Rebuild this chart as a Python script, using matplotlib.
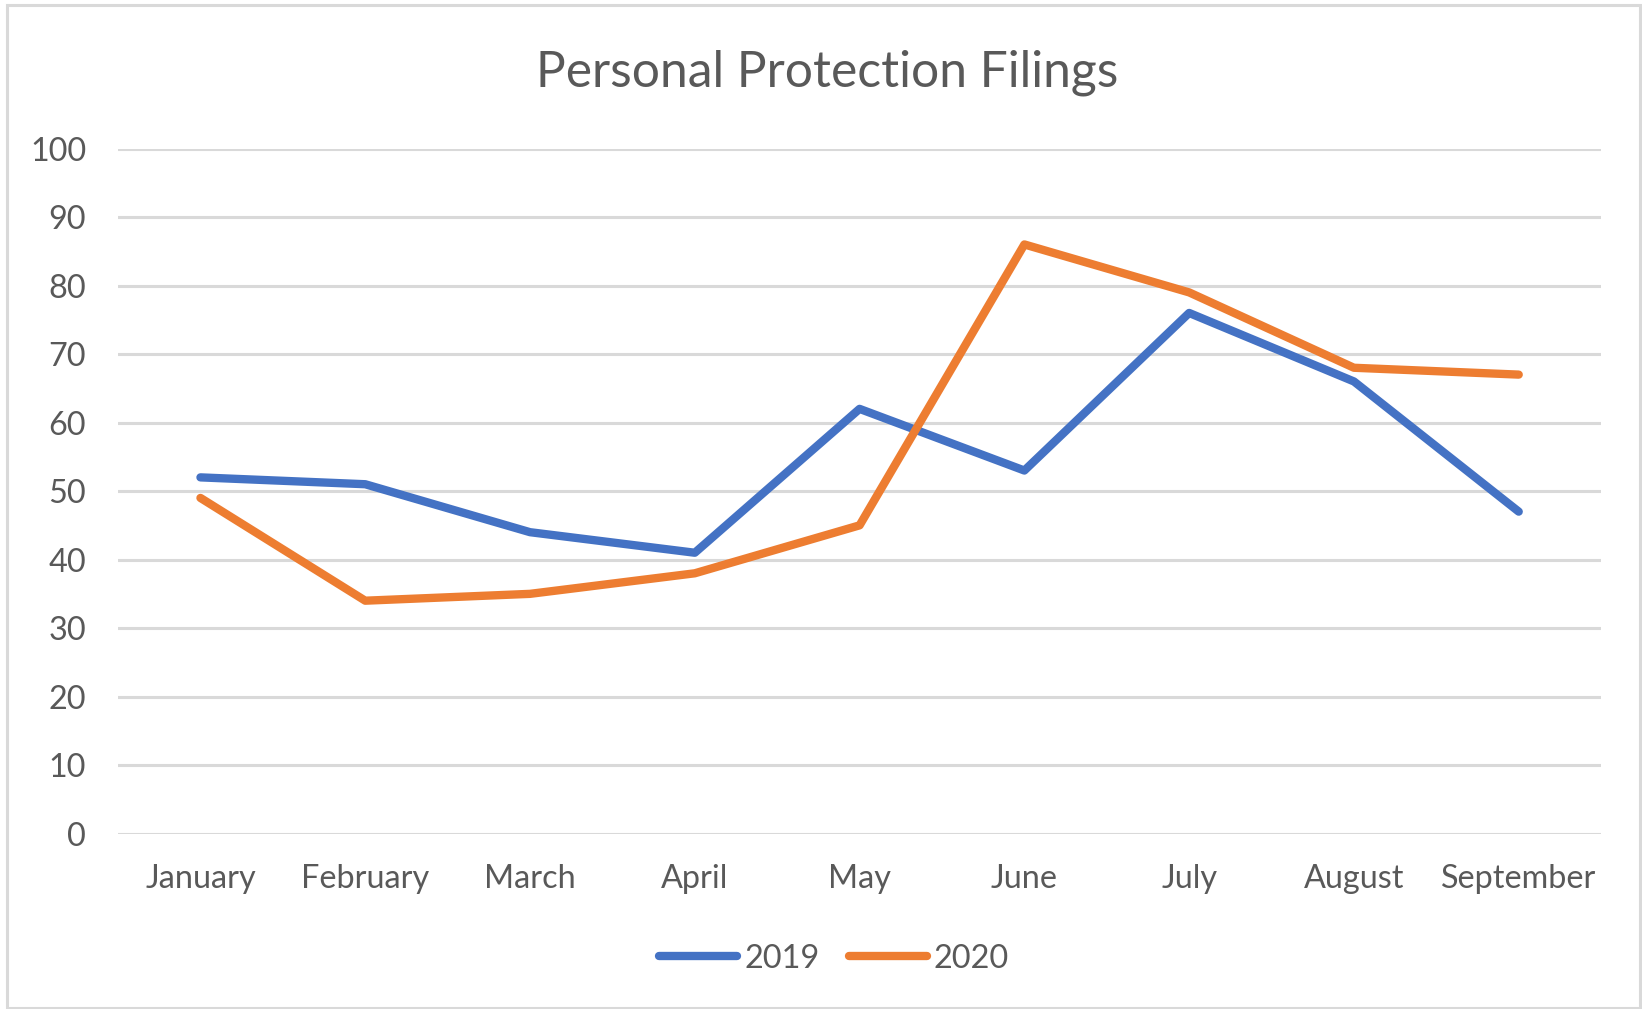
import matplotlib.pyplot as plt
from matplotlib.patches import Rectangle

plt.rcParams['font.family'] = ['Lato', 'DejaVu Sans']

months = ["January", "February", "March", "April", "May",
          "June", "July", "August", "September"]
filings_2019 = [52, 51, 44, 41, 62, 53, 76, 66, 47]
filings_2020 = [49, 34, 35, 38, 45, 86, 79, 68, 67]
yticks = list(range(0, 101, 10))

blue = "#4472C4"
orange = "#ED7D31"
grey_text = "#595959"
grid_col = "#D9D9D9"

fig = plt.figure(figsize=(16.42, 10.09), dpi=100)
ax = fig.add_axes([0.0719, 0.1738, 0.9032, 0.679])

# outer chart frame
fig.patches.append(Rectangle((0.0045, 0.001), 0.994, 0.994, transform=fig.transFigure,
                             fill=False, edgecolor=grid_col, linewidth=2.2))

x = range(len(months))
ax.plot(x, filings_2019, color=blue, lw=6, label="2019",
        solid_capstyle='round', solid_joinstyle='round', zorder=3)
ax.plot(x, filings_2020, color=orange, lw=6, label="2020",
        solid_capstyle='round', solid_joinstyle='round', zorder=3)

ax.set_xlim(-0.5, len(months) - 0.5)
ax.set_ylim(0, 100)
ax.set_yticks(yticks)
ax.set_xticks(list(x))
ax.set_xticklabels(months)
ax.yaxis.grid(True, color=grid_col, lw=2.2)
ax.set_axisbelow(True)
for s in ax.spines.values():
    s.set_visible(False)
ax.tick_params(axis='both', length=0, labelsize=23.3, labelcolor=grey_text)
ax.tick_params(axis='y', pad=23)
ax.tick_params(axis='x', pad=22)

fig.suptitle("Personal Protection Filings", x=0.504, y=0.951, fontsize=35.8,
             color=grey_text)

leg = fig.legend(loc='center', bbox_to_anchor=(0.508, 0.05), ncol=2, frameon=False,
                 fontsize=23.4, handlelength=2.4, handletextpad=0.22, columnspacing=0.9,
                 labelcolor=grey_text)
for h in leg.get_lines():
    h.set_solid_capstyle('round')

fig.savefig("out.png", dpi=100)
